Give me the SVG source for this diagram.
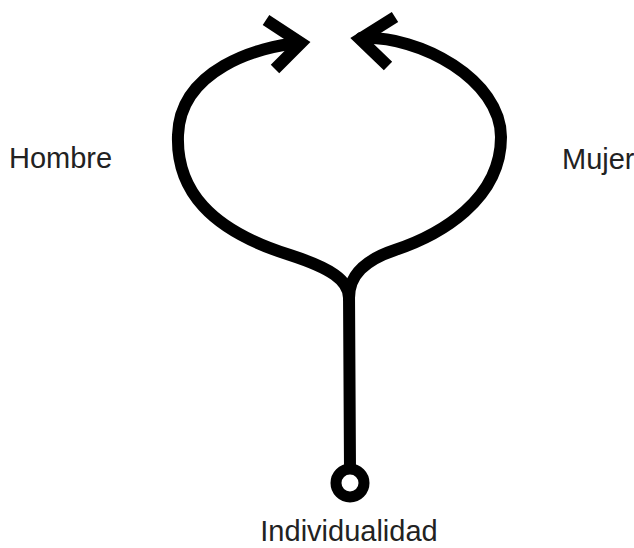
<svg xmlns="http://www.w3.org/2000/svg" width="634" height="548" viewBox="0 0 634 548">
<style>
.ln{fill:none;stroke:#000;stroke-width:12;stroke-linecap:round;stroke-linejoin:round}
.ah{fill:none;stroke:#000;stroke-width:12;stroke-linecap:butt;stroke-linejoin:miter;stroke-miterlimit:10}
.lbl{font-family:"Liberation Sans",Arial,sans-serif;font-size:29px;fill:#222}
</style>
<rect width="634" height="548" fill="#fff"/>
<g id="connectors">
<path class="ln" d="M 300 43 C 258 46, 180 70, 178 135 C 176 190, 210 230, 290 255 C 330 268, 349 280, 349 298"/>
<path class="ln" d="M 361 38 C 420 35, 501 80, 501 137 C 501 200, 440 235, 395 250 C 365 260, 349 275, 349 298"/>
<path class="ln" d="M 349 292 L 350 470"/>
<polyline class="ah" points="266,20 301,43 275,69"/>
<polyline class="ah" points="395,17 360,39 388,66"/>
</g>
<g id="node-individualidad">
<circle cx="350" cy="483" r="14" fill="#fff" stroke="#000" stroke-width="11"/>
<text class="lbl" x="349" y="541" text-anchor="middle">Individualidad</text>
</g>
<g id="node-hombre">
<text class="lbl" x="9" y="168">Hombre</text>
</g>
<g id="node-mujer">
<text class="lbl" x="562" y="169">Mujer</text>
</g>
</svg>
